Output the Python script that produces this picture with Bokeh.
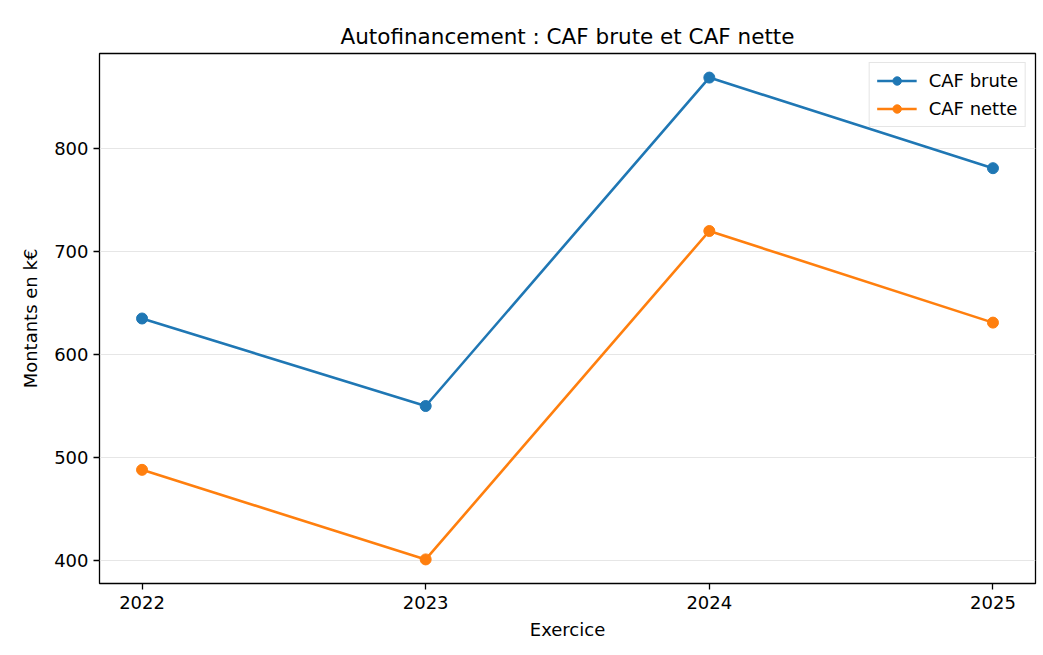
from bokeh.plotting import figure
from bokeh.models import FixedTicker, Range1d, Legend, LegendItem
from bokeh.embed import file_html
from bokeh.resources import INLINE

years = [2022, 2023, 2024, 2025]
caf_brute = [635, 550, 869, 781]
caf_nette = [488, 401, 720, 631]
y_ticks = [400, 500, 600, 700, 800]

FONT = "DejaVu Sans"
BLUE = "#1f77b4"
ORANGE = "#ff7f0e"

p = figure(frame_width=936, frame_height=530,
           min_border_left=99, min_border_top=53, min_border_right=8, min_border_bottom=64,
           x_range=Range1d(2021.85, 2025.15), y_range=Range1d(377.6, 892.4),
           output_backend="svg", toolbar_location=None,
           title="Autofinancement : CAF brute et CAF nette")

p.title.align = "center"
p.title.text_font = FONT
p.title.text_font_size = "21.5px"
p.title.text_font_style = "normal"
p.title.text_color = "#000000"
p.title.standoff = 9

p.outline_line_color = "#000000"
p.outline_line_width = 1.3
p.background_fill_color = "white"
p.border_fill_color = "white"

for ax in (p.xaxis[0], p.yaxis[0]):
    ax.axis_line_color = None
    ax.major_tick_line_color = "#000000"
    ax.major_tick_line_width = 1.3
    ax.major_tick_out = 6
    ax.major_tick_in = 0
    ax.minor_tick_line_color = None
    ax.major_label_text_font = FONT
    ax.major_label_text_font_size = "18px"
    ax.major_label_text_color = "#000000"
    ax.axis_label_text_font = FONT
    ax.axis_label_text_font_size = "18px"
    ax.axis_label_text_font_style = "normal"
    ax.axis_label_text_color = "#000000"

p.xaxis.ticker = FixedTicker(ticks=years)
p.yaxis.ticker = FixedTicker(ticks=y_ticks)
p.xaxis.axis_label = "Exercice"
p.yaxis.axis_label = "Montants en k€"
p.xaxis.major_label_standoff = 6
p.yaxis.major_label_standoff = 5
p.xaxis.axis_label_standoff = 7
p.yaxis.axis_label_standoff = 10

p.xgrid.grid_line_color = None
p.ygrid.grid_line_color = "#e6e6e6"
p.ygrid.grid_line_width = 1.2

l1 = p.line(years, caf_brute, line_color=BLUE, line_width=2.6)
c1 = p.scatter(years, caf_brute, size=11, fill_color=BLUE, line_color=BLUE)
l2 = p.line(years, caf_nette, line_color=ORANGE, line_width=2.6)
c2 = p.scatter(years, caf_nette, size=11, fill_color=ORANGE, line_color=ORANGE)

legend = Legend(items=[LegendItem(label="CAF brute", renderers=[l1, c1]),
                       LegendItem(label="CAF nette", renderers=[l2, c2])],
                location="top_right")
legend.label_text_font = FONT
legend.label_text_font_size = "18px"
legend.label_text_color = "#000000"
legend.border_line_color = "#cccccc"
legend.border_line_width = 1
legend.background_fill_alpha = 0.8
legend.margin = 9
legend.padding = 7
legend.spacing = 7
legend.glyph_width = 40
legend.glyph_height = 21
legend.label_height = 21
legend.label_standoff = 12
p.add_layout(legend)

open("out.html", "w").write(file_html(p, INLINE))
